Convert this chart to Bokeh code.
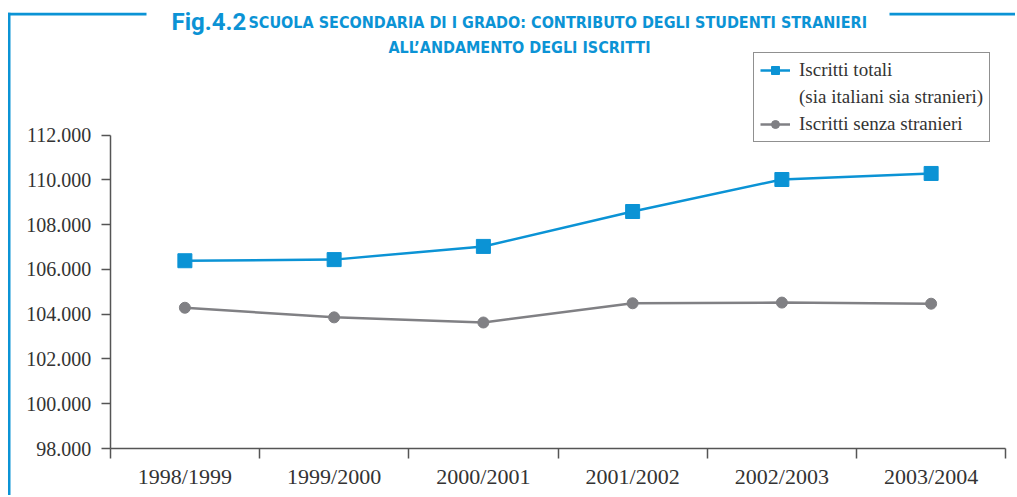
from bokeh.plotting import figure
from bokeh.models import (Range1d, FixedTicker, Label, BoxAnnotation, Legend, LegendItem, ColumnDataSource)
from bokeh.embed import file_html
from bokeh.resources import INLINE

# ---- data ----
categories = ["1998/1999", "1999/2000", "2000/2001", "2001/2002", "2002/2003", "2003/2004"]
iscritti_totali = [106390, 106440, 107030, 108590, 110020, 110290]
iscritti_senza_stranieri = [104290, 103860, 103630, 104490, 104520, 104470]
y_ticks = [98000, 100000, 102000, 104000, 106000, 108000, 110000, 112000]
y_tick_labels = ["98.000", "100.000", "102.000", "104.000", "106.000", "108.000", "110.000", "112.000"]
title_fig = "Fig.4.2"
title_line1 = "SCUOLA SECONDARIA DI I GRADO: CONTRIBUTO DEGLI STUDENTI STRANIERI"
title_line2 = "ALL\u2019ANDAMENTO DEGLI ISCRITTI"
legend_labels = ["Iscritti totali", "(sia italiani sia stranieri)", "Iscritti senza stranieri"]

BLUE = "#0B93D5"
GRAY = "#808084"
SERIF = "'Liberation Serif', 'DejaVu Serif', serif"
TITLE_FONT = "'Liberation Sans Narrow', 'DejaVu Sans Condensed', 'Roboto', sans-serif"
FIG_FONT = "Roboto, 'DejaVu Sans', sans-serif"

W, H = 1015, 495
# layout: category band 0 at page x 109.75, 149.25 px per category;
# 98.000 at page y 448, 112.000 at page y 134.7
PX_X = 149.25
X0 = 109.75
PX_Y = (448 - 134.7) / 14000.0

xpos = [i + 0.5 for i in range(len(categories))]
src = ColumnDataSource(dict(x=xpos, tot=iscritti_totali, senza=iscritti_senza_stranieri))

x_range = Range1d(-X0 / PX_X, (W - X0) / PX_X)
y_range = Range1d(98000 - (H - 448) / PX_Y, 112000 + 134.7 / PX_Y)

p = figure(width=W, height=H, output_backend="svg", toolbar_location=None,
           x_range=x_range, y_range=y_range, min_border=0)
p.outline_line_color = None
p.grid.grid_line_color = None
p.background_fill_color = "white"
p.border_fill_color = "white"

# x axis: labels at centres, ticks at boundaries (minor ticks)
xa = p.xaxis[0]
xa.fixed_location = 98000
xa.bounds = (0, len(categories))
xa.ticker = FixedTicker(ticks=xpos, minor_ticks=list(range(len(categories) + 1)))
xa.major_label_overrides = {x: c for x, c in zip(xpos, categories)}
xa.major_tick_out = 0
xa.major_tick_in = 0
xa.minor_tick_out = 10
xa.minor_tick_in = 0
xa.minor_tick_line_color = "#555555"
xa.minor_tick_line_width = 1.5
xa.axis_line_color = "#555555"
xa.axis_line_width = 1.5
xa.major_label_text_font = SERIF
xa.major_label_text_font_size = "22px"
xa.major_label_text_color = "#333333"
xa.major_label_standoff = 5

ya = p.yaxis[0]
ya.fixed_location = 0
ya.bounds = (98000, 112000)
ya.ticker = FixedTicker(ticks=y_ticks)
ya.major_label_overrides = {t: l for t, l in zip(y_ticks, y_tick_labels)}
ya.major_tick_out = 9
ya.major_tick_in = 0
ya.minor_tick_line_color = None
ya.major_tick_line_color = "#555555"
ya.major_tick_line_width = 1.5
ya.axis_line_color = "#555555"
ya.axis_line_width = 1.5
ya.major_label_text_font = SERIF
ya.major_label_text_font_size = "20px"
ya.major_label_text_color = "#333333"
ya.major_label_standoff = 10

l1 = p.line("x", "tot", source=src, line_color=BLUE, line_width=2.5)
m1 = p.scatter("x", "tot", source=src, marker="square", size=14, fill_color=BLUE, line_color=BLUE)
l2 = p.line("x", "senza", source=src, line_color=GRAY, line_width=2.5)
m2 = p.scatter("x", "senza", source=src, marker="circle", size=11, fill_color=GRAY, line_color=GRAY)

legend = Legend(items=[LegendItem(label=legend_labels[0], renderers=[l1, m1]),
                       LegendItem(label=legend_labels[1], renderers=[]),
                       LegendItem(label=legend_labels[2], renderers=[l2, m2])],
                location=(753, H - 142))
legend.border_line_color = "#222222"
legend.border_line_width = 1.5
legend.label_text_font = SERIF
legend.label_text_font_size = "19px"
legend.label_text_color = "#333333"
legend.glyph_width = 30
legend.glyph_height = 20
legend.label_height = 20
legend.label_standoff = 9
legend.padding = 6
legend.spacing = 5
legend.margin = 0
p.add_layout(legend, "center")

# title and decorative frame
p.add_layout(Label(x=171, y=H - 21.7, x_units="screen", y_units="screen", text=title_fig,
                   text_font=FIG_FONT, text_font_style="bold", text_font_size="24px",
                   text_color=BLUE, text_baseline="alphabetic"))
p.add_layout(Label(x=248, y=H - 21.5, x_units="screen", y_units="screen", text=title_line1,
                   text_font=TITLE_FONT, text_font_style="bold", text_font_size="16px",
                   text_color=BLUE, text_baseline="alphabetic"))
p.add_layout(Label(x=519, y=H - 47, x_units="screen", y_units="screen", text=title_line2,
                   text_font=TITLE_FONT, text_font_style="bold", text_font_size="16px",
                   text_color=BLUE, text_baseline="alphabetic", text_align="center"))
for (l, r, b, t) in [(7.5, 146, H - 15, H - 12.3), (889, W, H - 15, H - 12.3), (7.5, 10, 0, H - 12.3)]:
    p.add_layout(BoxAnnotation(left=l, right=r, bottom=b, top=t,
                               left_units="screen", right_units="screen",
                               bottom_units="screen", top_units="screen",
                               fill_color=BLUE, fill_alpha=1, line_color=None))

open("out.html", "w").write(file_html(p, INLINE))
